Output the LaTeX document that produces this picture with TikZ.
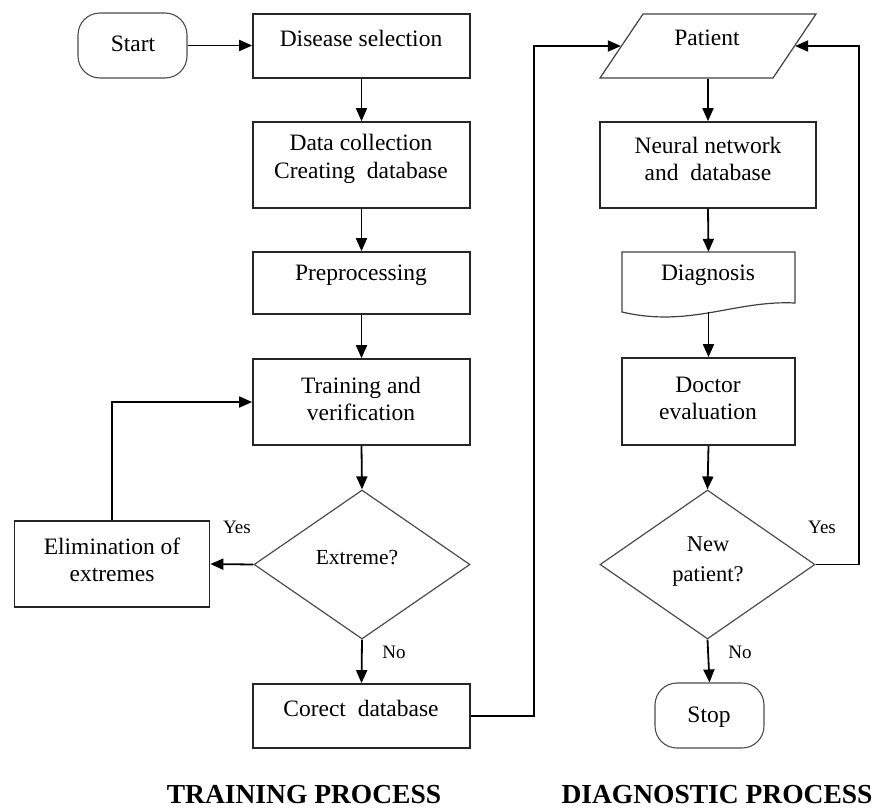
\documentclass[tikz,border=0pt]{standalone}
\usepackage{fontspec}
\setmainfont{Liberation Serif}
\usetikzlibrary{shapes.geometric,arrows.meta}
\begin{document}
\begin{tikzpicture}[x=1pt,y=-1pt,
  box/.style={draw=black!85,line width=1.7pt,minimum width=#1,inner sep=0pt},
  box/.default=217pt,
  term/.style={draw=black!70,line width=1.1pt,rounded corners=22pt,minimum width=109pt,minimum height=65pt,inner sep=0pt},
  dia/.style={draw=black!70,line width=1.2pt,diamond,inner sep=0pt},
  txt/.style={font=\fontsize{23.5}{27.5}\selectfont,align=center,inner sep=0pt},
  lbl/.style={font=\fontsize{19}{22}\selectfont,inner sep=0pt},
  ttl/.style={font=\fontsize{27.5}{30}\selectfont\bfseries,inner sep=0pt},
  arr/.style={line width=1.8pt,-{Triangle[length=13pt,width=11pt]}},
  ln/.style={line width=1.8pt}]
\path[use as bounding box] (0,0) rectangle (881,809);

% training column
\node[term] (start) at (132.5,45.5) {};
\node[txt] (tstart) at (133,44) {Start};
\node[box,minimum height=64pt] (disease) at (361.5,46) {};
\node[txt] (tdisease) at (361,38) {Disease selection};
\node[box,minimum height=86pt] (data) at (361.5,165) {};
\node[txt] (tdata) at (361,159) {Data collection\\Creating\ \ database};
\node[box,minimum height=62pt] (prep) at (361.5,283) {};
\node[txt] (tprep) at (361,275) {Preprocessing};
\node[box,minimum height=86pt] (train) at (361.5,402) {};
\node[txt] (ttrain) at (361,399) {Training and\\verification};
\node[dia,minimum width=216pt,minimum height=149pt] (extreme) at (362,564.5) {};
\node[txt,font=\fontsize{21.5}{25}\selectfont] (textreme) at (357,558) {Extreme?};
\node[box=195pt,minimum height=86pt] (elim) at (112,564) {};
\node[txt] (telim) at (112,560) {Elimination of\\extremes};
\node[box,minimum height=64pt] (corect) at (361.5,716) {};
\node[txt] (tcorect) at (361,708) {Corect\ \ database};
\node[lbl] (yes1) at (237,527) {Yes};
\node[lbl] (no1) at (394,652) {No};

% diagnostic column
\node[draw=black!75,line width=1.2pt,xslant=0.672,minimum width=173pt,minimum height=64pt,inner sep=0pt] (patient) at (708,46) {};
\node[txt] (tpatient) at (707,38) {Patient};
\node[box=216pt,minimum height=86pt] (neural) at (708,165) {};
\node[txt] (tneural) at (708,159) {Neural network\\and\ \ database};
\node[minimum width=173pt,minimum height=60pt,inner sep=0pt] (diag) at (708.5,282) {};
\draw[black!75,line width=1.2pt] (622,252) -- (795,252) -- (795,303)
  .. controls (735,300) and (690,328) .. (622,312) -- cycle;
\node[txt] (tdiag) at (708,275) {Diagnosis};
\node[box=173pt,minimum height=87pt] (doctor) at (708.5,401.5) {};
\node[txt] (tdoctor) at (708,398.5) {Doctor\\evaluation};
\node[dia,minimum width=215pt,minimum height=149pt] (newpat) at (707.5,564.5) {};
\node[txt,font=\fontsize{22.5}{30}\selectfont] (tnewpat) at (708,562) {New\\patient?};
\node[term] (stop) at (709.5,715.5) {};
\node[txt] (tstop) at (709,717) {Stop};
\node[lbl] (yes2) at (822,527) {Yes};
\node[lbl] (no2) at (740,652) {No};

% titles
\node[ttl] (title1) at (304,795) {TRAINING PROCESS};
\node[ttl] (title2) at (717,795) {DIAGNOSTIC PROCESS};

% connectors
\draw[arr] (start.east) -- (disease.west |- start.east);
\draw[arr] (disease.south) -- (data.north);
\draw[arr] (data.south) -- (prep.north);
\draw[arr] (prep.south) -- (train.north);
\draw[arr] (train.south) -- (extreme.north);
\draw[arr] (extreme.west) -- (elim.east);
\draw[arr] (elim.north) |- (train.west);
\draw[arr] (extreme.south) -- (corect.north);
\draw[arr] (corect.east) -- ++(63,0) |- (patient.west);
\draw[arr] (neural.north |- patient.south) -- (neural.north);
\draw[arr] (neural.south) -- (diag.north);
\draw[arr] (diag.south) -- (doctor.north);
\draw[arr] (doctor.south) -- (newpat.north);
\draw[arr] (newpat.south) -- (stop.north);
\draw[arr] (newpat.east) -- (859,564.5) |- (patient.east);
\end{tikzpicture}
\end{document}
